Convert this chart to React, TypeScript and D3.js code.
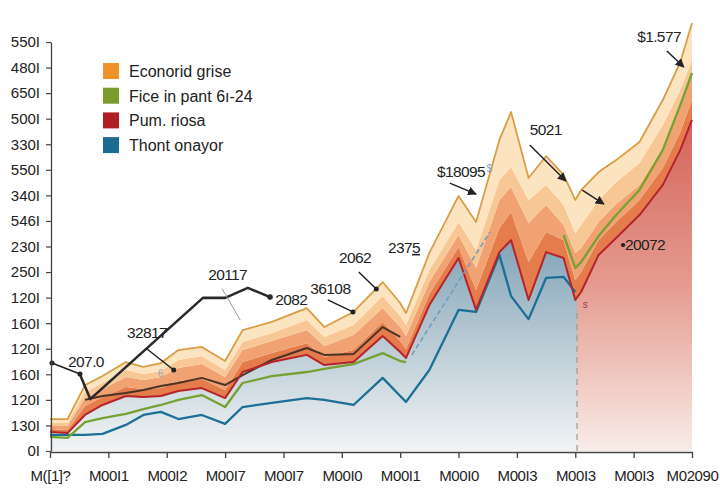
import React, { useEffect, useRef } from 'react';
import * as d3 from 'd3';

// shared x positions (months from start)
const months = [0, 3, 6, 9, 13, 16, 19, 22, 26, 30, 33, 38, 44, 47, 52, 57, 60, 61, 65, 70, 73, 77, 79, 82, 85, 88, 90, 91, 94, 97, 101, 105, 108, 110];

// Thont onayor (blue) - stops at the forecast split
const thontOnayor = [63, 63, 63, 67, 102, 141, 153, 125, 141, 106, 172, 188, 207, 200, 180, 286, 215, 192, 317, 552, 544, 767, 606, 516, 677, 681, 622, null, null, null, null, null, null, null];

// Fice in pant (green) - hidden through the middle stretch
const ficeInPant = [55, 51, 113, 129, 145, 164, 180, 200, 219, 172, 266, 293, 309, 321, 340, 383, 352, 348, null, null, null, null, null, null, null, 845, 716, 739, 841, 923, 1021, 1178, 1354, 1479];

// Pum. riosa (red) - base of the orange bands
const pumRiosa = [74, 70, 141, 180, 215, 211, 215, 235, 246, 207, 309, 348, 376, 336, 348, 450, 387, 364, 571, 755, 552, 778, 825, 591, 778, 755, 591, 622, 767, 833, 923, 1041, 1178, 1295];

// orange band boundaries, bottom to top
const band1 = [86, 82, 176, 211, 250, 243, 246, 274, 282, 239, 348, 383, 422, 368, 395, 505, 430, 399, 614, 798, 630, 872, 935, 739, 857, 825, 669, 700, 825, 896, 982, 1107, 1248, 1373];
const band2 = [98, 98, 207, 243, 289, 278, 289, 325, 340, 289, 395, 430, 473, 411, 454, 559, 485, 450, 661, 845, 716, 982, 1033, 892, 962, 884, 775, 794, 896, 966, 1041, 1185, 1354, 1479];
const band3 = [110, 110, 231, 266, 317, 301, 313, 356, 372, 317, 426, 462, 512, 446, 493, 606, 528, 493, 708, 896, 786, 1060, 1111, 982, 1041, 962, 853, 884, 982, 1052, 1127, 1275, 1412, 1530];

// Econorid grise - top envelope
const econoridGrise = [125, 125, 258, 293, 348, 329, 344, 395, 407, 352, 473, 505, 559, 485, 544, 661, 579, 540, 775, 998, 896, 1217, 1326, 1068, 1154, 1080, 982, 1021, 1091, 1138, 1209, 1373, 1522, 1674];

// dark trend running inside the bands
const trend = [null, null, 200, 215, 227, 239, 254, 266, 286, 258, 297, 356, 403, 376, 379, 485, 446, null, null, null, null, null, null, null, null, null, null, null, null, null, null, null, null, null];

// black callout path
const calloutMonths = [5.1, 6.9, 26.2, 30, 33.9, 37.7];
const calloutValues = [301, 203, 599, 599, 638, 602];

const forecastStart = 90.3;

const xLabels = ['M([1]?', 'M00I1', 'M00I2', 'M00I7', 'M00I7', 'M00I0', 'M00I1', 'M00I0', 'M00I3', 'M00I3', 'M00I3', 'M02090'];
const yLabels = ['0I', '130I', '120I', '160I', '120I', '160I', '120I', '250I', '230I', '546I', '340I', '550I', '330I', '500I', '650I', '480I', '550I'];

const legendItems = [
  { label: 'Econorid grise', color: '#f0922b' },
  { label: 'Fice in pant 6ı-24', color: '#7b9c2c' },
  { label: 'Pum. riosa', color: '#b01e24' },
  { label: 'Thont onayor', color: '#1b6b93' },
];

// value callouts: text anchor, pointer from/to (month, value)
const notes = [
  { text: '207.0', at: [3.1, 329], from: [0.34, 344], to: [5.14, 301], head: 'dot', tail: true, color: '#222' },
  { text: '32817', at: [13.2, 442], from: [16.4, 403], to: [21.2, 317], head: 'dot', tail: false, color: '#222' },
  { text: '20117', at: [27.1, 669], from: [29.5, 634], to: [32.6, 512], head: 'none', tail: false, color: '#999' },
  { text: '2082', at: [38.6, 571], from: null, to: null, head: 'none', tail: false, color: '#222' },
  { text: '36108', at: [44.6, 614], from: [47.6, 591], to: [51.9, 544], head: 'dot', tail: false, color: '#222' },
  { text: '2062', at: [49.5, 735], from: [52.9, 700], to: [55.9, 634], head: 'dot', tail: false, color: '#222' },
  { text: '$18095', at: [66.3, 1072], from: [68.5, 1048], to: [73, 1005], head: 'arrow', tail: false, color: '#222' },
  { text: '5021', at: [82.2, 1236], from: [82.2, 1197], to: [88.4, 1056], head: 'arrow', tail: false, color: '#222' },
  { text: '', at: [0, 0], from: [91.2, 1021], to: [94.9, 966], head: 'arrow', tail: false, color: '#222' },
  { text: '$1.577', at: [100.6, 1600], from: [105.7, 1565], to: [108.6, 1502], head: 'arrow', tail: false, color: '#222' },
  { text: '•20072', at: [97.7, 786], from: null, to: null, head: 'none', tail: false, color: '#222' },
];

// tiny stray marks along the lines
const strayMarks = [
  { text: '$', at: [74.8, 1092], color: '#7fa6c6' },
  { text: 's', at: [91.3, 560], color: '#9b3a3a' },
  { text: '6', at: [18.5, 290], color: '#9aa8b8' },
];

const FONT = '"Liberation Sans", Arial, sans-serif';

export default function App() {
  const svgRef = useRef<SVGSVGElement | null>(null);

  useEffect(() => {
    if (!svgRef.current) return;
    const width = 720;
    const height = 500;

    const svg = d3.select(svgRef.current);
    svg.selectAll('*').remove();
    svg.attr('width', width).attr('height', height);

    const x = d3.scaleLinear().domain([0, 110]).range([50, 692]);
    const y = d3.scaleLinear().domain([0, 1600]).range([451, 42]);

    const defs = svg.append('defs');

    const blueGrad = defs.append('linearGradient')
      .attr('id', 'blueFill')
      .attr('gradientUnits', 'userSpaceOnUse')
      .attr('x1', 0).attr('x2', 0)
      .attr('y1', y(850)).attr('y2', y(0));
    blueGrad.append('stop').attr('offset', 0).attr('stop-color', '#7ea1b7');
    blueGrad.append('stop').attr('offset', 0.45).attr('stop-color', '#b3c6d1');
    blueGrad.append('stop').attr('offset', 1).attr('stop-color', '#f1f4f5');

    const redGrad = defs.append('linearGradient')
      .attr('id', 'redFill')
      .attr('gradientUnits', 'userSpaceOnUse')
      .attr('x1', 0).attr('x2', 0)
      .attr('y1', y(1300)).attr('y2', y(0));
    redGrad.append('stop').attr('offset', 0).attr('stop-color', '#d4635a');
    redGrad.append('stop').attr('offset', 0.5).attr('stop-color', '#e59b8f');
    redGrad.append('stop').attr('offset', 1).attr('stop-color', '#f8ece8');

    defs.append('clipPath').attr('id', 'clipPast')
      .append('rect').attr('x', 0).attr('y', 0)
      .attr('width', x(forecastStart)).attr('height', height);
    defs.append('clipPath').attr('id', 'clipFuture')
      .append('rect').attr('x', x(forecastStart)).attr('y', 0)
      .attr('width', width - x(forecastStart)).attr('height', height);

    defs.append('marker')
      .attr('id', 'arrowHead')
      .attr('viewBox', '0 0 10 10')
      .attr('refX', 9).attr('refY', 5)
      .attr('markerWidth', 6).attr('markerHeight', 6)
      .attr('orient', 'auto')
      .append('path').attr('d', 'M0,0 L10,5 L0,10 z').attr('fill', '#222');

    const rows = months.map((m, i) => ({
      m,
      blue: thontOnayor[i],
      green: ficeInPant[i],
      red: pumRiosa[i],
      b1: band1[i],
      b2: band2[i],
      b3: band3[i],
      top: econoridGrise[i],
      trend: trend[i],
    }));

    const g = svg.append('g');

    // fill under the red series: steel blue for history, red for forecast
    const baseArea = d3.area<any>().x(d => x(d.m)).y0(y(0)).y1(d => y(d.red));
    g.append('path').datum(rows).attr('d', baseArea).attr('fill', 'url(#blueFill)').attr('clip-path', 'url(#clipPast)');
    g.append('path').datum(rows).attr('d', baseArea).attr('fill', 'url(#redFill)').attr('clip-path', 'url(#clipFuture)');

    // stacked orange bands
    const bands = [
      { lo: 'red', hi: 'b1', color: '#e47c4b' },
      { lo: 'b1', hi: 'b2', color: '#f1a273' },
      { lo: 'b2', hi: 'b3', color: '#f8c796' },
      { lo: 'b3', hi: 'top', color: '#fde4c0' },
    ];
    bands.forEach(b => {
      const area = d3.area<any>().x(d => x(d.m)).y0(d => y(d[b.lo])).y1(d => y(d[b.hi]));
      g.append('path').datum(rows).attr('d', area).attr('fill', b.color);
    });

    // dashed marker at the forecast split
    g.append('line')
      .attr('x1', x(forecastStart)).attr('x2', x(forecastStart))
      .attr('y1', y(540)).attr('y2', y(0))
      .attr('stroke', '#9a9a9a').attr('stroke-width', 1.2)
      .attr('stroke-dasharray', '6,5');

    const drawLine = (key: string, color: string, w: number) => {
      const line = d3.line<any>()
        .defined(d => d[key] != null)
        .x(d => x(d.m))
        .y(d => y(d[key]));
      g.append('path').datum(rows)
        .attr('d', line)
        .attr('fill', 'none')
        .attr('stroke', color)
        .attr('stroke-width', w)
        .attr('stroke-linejoin', 'round');
    };

    drawLine('blue', '#1c6f95', 2.3);
    drawLine('green', '#76a232', 2.3);
    drawLine('trend', '#4b3326', 2);
    drawLine('red', '#b5242a', 2);
    drawLine('top', '#d99d45', 1.8);

    // thin dashed pointer across the middle
    g.append('line')
      .attr('x1', x(62)).attr('y1', y(376))
      .attr('x2', x(75.4)).attr('y2', y(857))
      .attr('stroke', '#6f9cc0').attr('stroke-width', 1.6)
      .attr('stroke-dasharray', '5,3');

    // black callout path
    const callout = calloutMonths.map((m, i) => [x(m), y(calloutValues[i])] as [number, number]);
    g.append('path')
      .attr('d', d3.line()(callout))
      .attr('fill', 'none')
      .attr('stroke', '#2a2a2a')
      .attr('stroke-width', 2.6)
      .attr('stroke-linejoin', 'round');
    g.append('circle')
      .attr('cx', callout[callout.length - 1][0]).attr('cy', callout[callout.length - 1][1])
      .attr('r', 2.8).attr('fill', '#2a2a2a');

    strayMarks.forEach(s => {
      g.append('text')
        .attr('x', x(s.at[0])).attr('y', y(s.at[1]))
        .attr('font-family', FONT)
        .attr('font-size', 10)
        .attr('fill', s.color)
        .text(s.text);
    });

    // callout notes
    notes.forEach(n => {
      if (n.from && n.to) {
        g.append('line')
          .attr('x1', x(n.from[0])).attr('y1', y(n.from[1]))
          .attr('x2', x(n.to[0])).attr('y2', y(n.to[1]))
          .attr('stroke', n.color)
          .attr('stroke-width', n.color === '#222' ? 1.5 : 1)
          .attr('marker-end', n.head === 'arrow' ? 'url(#arrowHead)' : null);
        if (n.head === 'dot') {
          g.append('circle').attr('cx', x(n.to[0])).attr('cy', y(n.to[1])).attr('r', 2.5).attr('fill', n.color);
        }
        if (n.tail) {
          g.append('circle').attr('cx', x(n.from[0])).attr('cy', y(n.from[1])).attr('r', 2.5).attr('fill', n.color);
        }
      }
      if (n.text) {
        g.append('text')
          .attr('x', x(n.at[0])).attr('y', y(n.at[1]))
          .attr('font-family', FONT)
          .attr('font-size', 15.5)
          .attr('letter-spacing', -0.6)
          .attr('fill', '#222')
          .text(n.text);
      }
    });

    const t2375 = g.append('text')
      .attr('x', x(57.9)).attr('y', y(775))
      .attr('font-family', FONT)
      .attr('font-size', 15.5)
      .attr('letter-spacing', -0.6)
      .attr('fill', '#222');
    t2375.append('tspan').text('237');
    t2375.append('tspan').attr('text-decoration', 'underline').text('5');

    // axes
    const xAxis = d3.axisBottom(x)
      .tickValues(d3.range(0, 111, 10))
      .tickFormat((d, i) => xLabels[i])
      .tickSize(6)
      .tickSizeOuter(0)
      .tickPadding(12);
    const xg = svg.append('g').attr('transform', `translate(0,${y(0) + 1})`).call(xAxis as any);
    xg.select('.domain').attr('stroke', '#444').attr('stroke-width', 1.5);
    xg.selectAll('.tick line').attr('stroke', '#444').attr('stroke-width', 1.3);
    xg.selectAll('.tick text').attr('font-family', FONT).attr('font-size', 15).attr('fill', '#222').attr('letter-spacing', -0.4);

    const yAxis = d3.axisLeft(y)
      .tickValues(d3.range(0, 1601, 100))
      .tickFormat((d, i) => yLabels[i])
      .tickSize(5)
      .tickSizeOuter(0)
      .tickPadding(6);
    const yg = svg.append('g').attr('transform', 'translate(51,0)').call(yAxis as any);
    yg.select('.domain').attr('stroke', '#444').attr('stroke-width', 1.3);
    yg.selectAll('.tick line').attr('stroke', '#444').attr('stroke-width', 1.2);
    yg.selectAll('.tick text').attr('font-family', FONT).attr('font-size', 15).attr('fill', '#222');

    // legend
    const legend = svg.append('g').attr('transform', 'translate(103,63)');
    legendItems.forEach((item, i) => {
      const row = legend.append('g').attr('transform', `translate(0,${i * 24.7})`);
      row.append('rect').attr('width', 16).attr('height', 16).attr('fill', item.color);
      row.append('text')
        .attr('x', 26).attr('y', 14)
        .attr('font-family', FONT)
        .attr('font-size', 16)
        .attr('fill', '#222')
        .text(item.label);
    });
  }, []);

  return (
    <div style={{ position: 'absolute', left: 0, top: 0, width: 720, height: 500, background: '#fff' }}>
      <svg ref={svgRef} style={{ display: 'block' }} />
    </div>
  );
}
